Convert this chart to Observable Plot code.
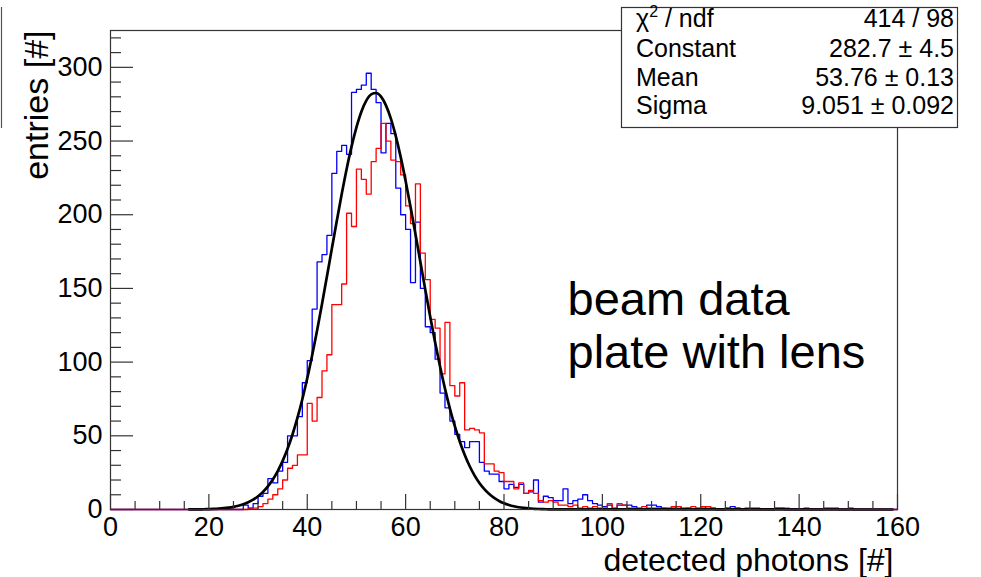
<!DOCTYPE html>
<html>
<head>
<meta charset="utf-8">
<script src="https://cdn.jsdelivr.net/npm/d3@7"></script>
<script src="https://cdn.jsdelivr.net/npm/@observablehq/plot@0.6"></script>
<style>
html, body { margin: 0; padding: 0; background: #fff; }
#chart { position: relative; width: 981px; height: 577px; overflow: hidden; }
</style>
</head>
<body>
<div id="chart"></div>
<script>
// ---- data (bins of width 1 from 0 to 160) ----
const blueCounts = [
  0,0,0,0,0,0,0,0,0,0,
  0,0,0,0,0,0,0,0,0,0,
  0,0,0,0,0,0,0,3,1,4,
  9,11,21,18,26,32,50,50,63,86,
  101,136,168,173,186,228,243,247,241,283,
  285,288,296,285,276,242,262,255,218,200,
  190,154,195,150,124,120,102,79,69,60,
  51,46,42,46,46,32,26,24,24,19,
  14,17,15,17,11,12,20,5,9,8,
  6,6,14,4,6,7,10,6,4,3,
  2,3,1,3,3,3,2,1,0,3,
  3,2,1,1,1,2,1,1,0,1,
  1,2,1,0,0,1,2,1,0,1,
  1,1,0,0,0,1,1,0,0,0,
  0,1,0,0,0,1,1,1,0,0,
  1,0,0,0,0,0,0,0,0,0
];
const redCounts = [
  0,0,0,0,0,0,0,0,0,0,
  0,0,0,0,0,0,0,0,0,0,
  0,0,0,0,0,0,0,0,1,1,
  2,4,7,10,14,20,28,30,37,37,
  72,60,76,94,105,139,139,153,201,192,
  231,224,214,236,245,262,250,237,236,227,
  206,194,221,174,156,129,123,92,127,84,
  77,86,54,55,54,52,31,31,26,25,
  19,19,14,18,11,13,11,6,5,6,
  5,3,3,2,3,1,2,1,2,1,
  1,4,0,4,3,1,1,0,2,1,
  1,1,1,0,2,2,0,1,2,0,
  2,2,1,0,0,1,0,1,0,0,
  0,0,0,0,0,1,1,1,0,0,
  0,0,0,0,0,0,0,0,0,0,
  0,0,0,0,0,0,0,0,0,0
];
// gaussian fit curve, sampled
const fitX = [16,17,18,19,20,21,22,23,24,25,26,27,28,29,30,31,32,33,34,35,36,37,38,39,40,
  41,42,43,44,45,46,47,48,49,50,51,52,53,54,55,56,57,58,59,60,61,62,63,64,65,66,67,68,69,70,
  71,72,73,74,75,76,77,78,79,80,81,82,83,84,85,86,87,88,89,90,159];
const fitY = [0.05,0.07,0.12,0.18,0.27,0.40,0.60,0.88,1.27,1.82,2.56,3.57,4.93,6.70,9.01,
  11.97,15.71,20.36,26.08,33.0,41.2,50.9,62.1,74.8,89.0,104.7,121.5,139.5,158.1,177.0,
  195.7,213.9,230.9,246.2,259.3,269.9,277.4,281.7,282.6,280.1,274.2,265.2,253.3,239.1,
  222.9,205.3,186.8,167.9,149.1,130.8,113.3,97.0,82.0,68.5,56.5,46.1,37.1,29.5,23.2,18.0,
  13.8,10.5,7.83,5.79,4.23,3.05,2.17,1.53,1.07,0.73,0.50,0.33,0.22,0.14,0.09,0];

const xTicks = [0,20,40,60,80,100,120,140,160];
const yTicks = [0,50,100,150,200,250,300];
const xMinorTicks = [5,10,15,25,30,35,45,50,55,65,70,75,85,90,95,105,110,115,125,130,135,145,150,155];
const yMinorTicks = [10,20,30,40,60,70,80,90,110,120,130,140,160,170,180,190,210,220,230,240,260,270,280,290,310,320];

const xTitle = "detected photons [#]";
const yTitle = "entries [#]";
const legendText = "beam data\nplate with lens";
const statNames = ["χ", "Constant", "Mean", "Sigma"];
const statValues = ["414 / 98", "282.7 ± 4.5", "53.76 ± 0.13", "9.051 ± 0.092"];

// ---- build tables ----
const histPoints = counts => counts.map((c, i) => ({x: i, y: c}))
  .concat([{x: counts.length, y: counts[counts.length - 1]}]);
const fitPts = fitX.map((x, i) => ({x, y: fitY[i]}));

const FONT = "'Liberation Sans', Arial, Helvetica, sans-serif";
const axisColor = "#333";

const plot = Plot.plot({
  width: 981,
  height: 577,
  marginLeft: 110,
  marginRight: 84,
  marginTop: 30,
  marginBottom: 68,
  x: {domain: [0, 160]},
  y: {domain: [0, 325]},
  style: {fontFamily: FONT, color: "#000", background: "#fff", overflow: "visible"},
  marks: [
    Plot.line(histPoints(blueCounts), {x: "x", y: "y", curve: "step-after", stroke: "#0000ff", strokeWidth: 1.3}),
    Plot.line(histPoints(redCounts), {x: "x", y: "y", curve: "step-after", stroke: "#ff0000", strokeWidth: 1.3}),
    Plot.line(fitPts, {x: "x", y: "y", curve: "monotone-x", stroke: "#000", strokeWidth: 2.7}),
    Plot.frame({stroke: axisColor, strokeWidth: 1.2}),
    Plot.tickY(yTicks, {y: d => d, insetRight: 764, stroke: axisColor, strokeWidth: 1.2}),
    Plot.tickY(yMinorTicks, {y: d => d, insetRight: 776, stroke: axisColor, strokeWidth: 1.2}),
    Plot.tickX(xTicks, {x: d => d, insetTop: 464, stroke: axisColor, strokeWidth: 1.2}),
    Plot.tickX(xMinorTicks, {x: d => d, insetTop: 471, stroke: axisColor, strokeWidth: 1.2}),
    Plot.axisY({ticks: yTicks, tickSize: 0, tickPadding: 8, fontSize: 27, label: null}),
    Plot.axisX({ticks: xTicks, tickSize: 0, tickPadding: 7, fontSize: 27, label: null}),
    Plot.text([xTitle], {text: d => d, frameAnchor: "bottom-right", textAnchor: "end", lineAnchor: "top", dx: -4, dy: 38.3, fontSize: 32, fill: "#000"}),
    Plot.text([yTitle], {text: d => d, frameAnchor: "top-left", textAnchor: "end", lineAnchor: "middle", rotate: -90, dx: -73, dy: 0, fontSize: 34, fill: "#000"}),
    Plot.text([legendText], {text: d => d, frameAnchor: "top-left", textAnchor: "start", lineAnchor: "top", dx: 457, dy: 247, fontSize: 47, lineHeight: 1.13, fill: "#000"})
  ]
});

document.getElementById("chart").appendChild(plot);

// ---- fit statistics box ----
const svg = d3.select(plot);
svg.append("line").attr("x1", 1.5).attr("x2", 1.5).attr("y1", 7).attr("y2", 128)
  .attr("stroke", "#555").attr("stroke-width", 1.2);
const box = svg.append("g").attr("font-family", FONT).attr("font-size", 25)
  .attr("fill", "#000").attr("text-anchor", "start");
box.append("rect").attr("x", 621.5).attr("y", 7.5).attr("width", 336).attr("height", 120)
  .attr("fill", "#fff").attr("stroke", axisColor).attr("stroke-width", 1.2);
const baselines = [27, 56.5, 85.5, 114];
statNames.forEach((name, i) => {
  const t = box.append("text").attr("x", 636).attr("y", baselines[i]).attr("text-anchor", "start");
  if (i === 0) {
    t.append("tspan").text(name);
    t.append("tspan").attr("dy", -10).attr("font-size", 16).text("2");
    t.append("tspan").attr("dy", 10).text(" / ndf");
  } else {
    t.text(name);
  }
  box.append("text").attr("x", 954).attr("y", baselines[i]).attr("text-anchor", "end").text(statValues[i]);
});
</script>
</body>
</html>
